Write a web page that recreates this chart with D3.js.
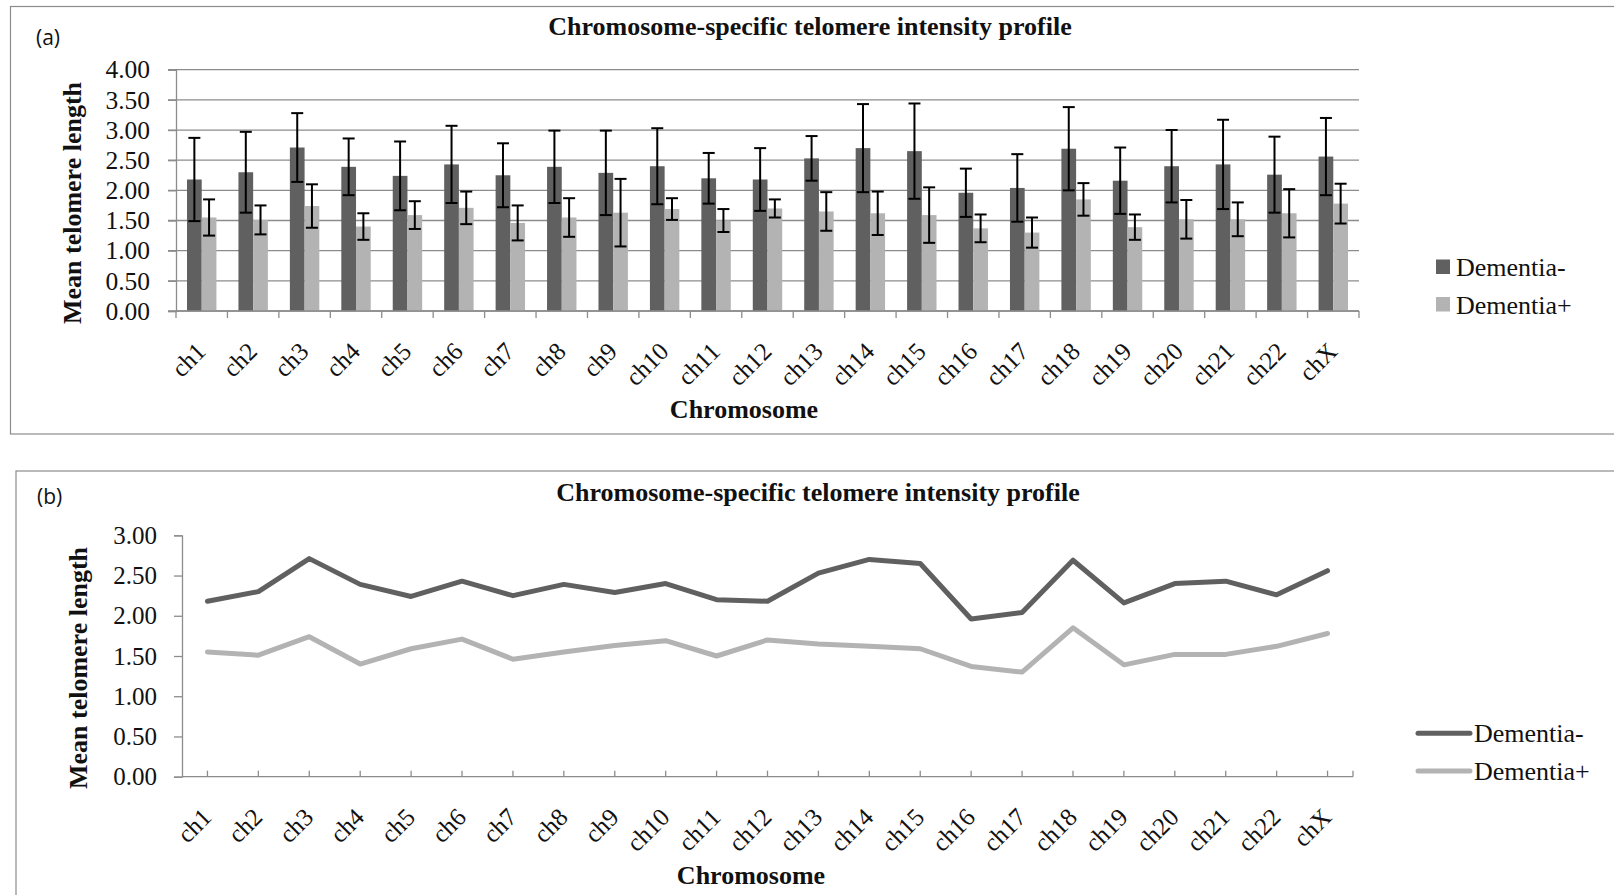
<!DOCTYPE html>
<html>
<head>
<meta charset="utf-8">
<script src="https://cdn.jsdelivr.net/npm/d3@7"></script>
<style>
  html, body { margin: 0; padding: 0; background: #fff; }
  svg { display: block; }
</style>
</head>
<body>
<svg id="fig" width="1614" height="895"></svg>
<script>
// Chromosome-specific mean telomere length, two groups.
const categories = ["ch1","ch2","ch3","ch4","ch5","ch6","ch7","ch8","ch9","ch10","ch11","ch12",
                    "ch13","ch14","ch15","ch16","ch17","ch18","ch19","ch20","ch21","ch22","chX"];
const seriesNames = ["Dementia-", "Dementia+"];
const dementiaNeg = [2.18,2.30,2.71,2.39,2.24,2.43,2.25,2.39,2.29,2.40,2.20,2.18,
                     2.53,2.70,2.65,1.96,2.04,2.69,2.16,2.40,2.43,2.26,2.56];
const dementiaPos = [1.55,1.51,1.74,1.40,1.59,1.71,1.46,1.55,1.63,1.69,1.50,1.70,
                     1.65,1.62,1.59,1.37,1.30,1.85,1.39,1.52,1.52,1.62,1.78];
const sdNeg = [0.69,0.67,0.57,0.47,0.57,0.64,0.53,0.60,0.70,0.63,0.42,0.52,
               0.37,0.73,0.79,0.40,0.56,0.69,0.55,0.60,0.74,0.63,0.64];
const sdPos = [0.30,0.24,0.36,0.22,0.23,0.27,0.29,0.32,0.56,0.18,0.19,0.15,
               0.32,0.36,0.46,0.23,0.25,0.27,0.21,0.32,0.28,0.40,0.33];
const yTicksBar = [0,0.5,1,1.5,2,2.5,3,3.5,4];
const yTicksLine = [0,0.5,1,1.5,2,2.5,3];
const chartTitle = "Chromosome-specific telomere intensity profile";
const yTitle = "Mean telomere length";
const xTitle = "Chromosome";

const colors = { "Dementia-": "#606060", "Dementia+": "#b3b3b3" };
const axisGray = "#8c8c8c";
const SERIF = '"Liberation Serif", "Times New Roman", Times, serif';
const SANS = '"Open Sans", "Liberation Sans", sans-serif';
const fmt = d3.format(".2f");

const svg = d3.select("#fig");

const seriesData = [
  { name: "Dementia-", values: dementiaNeg, sd: sdNeg },
  { name: "Dementia+", values: dementiaPos, sd: sdPos }
];

function serifText(sel, size, bold) {
  return sel.style("font-family", SERIF).style("font-size", size + "px")
    .style("font-weight", bold ? "bold" : "normal").attr("fill", "#111");
}

// ---------- panel frames ----------
svg.append("rect").attr("x", 10.5).attr("y", 6.5).attr("width", 1640).attr("height", 427.5)
  .attr("fill", "none").attr("stroke", axisGray).attr("stroke-width", 1.2);
svg.append("rect").attr("x", 16).attr("y", 471).attr("width", 1640).attr("height", 500)
  .attr("fill", "none").attr("stroke", axisGray).attr("stroke-width", 1.2);

svg.append("text").attr("x", 36).attr("y", 45).style("font-family", SANS)
  .style("font-size", "21px").attr("fill", "#111").text("(a)");
svg.append("text").attr("x", 37).attr("y", 504).style("font-family", SANS)
  .style("font-size", "21px").attr("fill", "#111").text("(b)");

// ================= (a) bar chart with error bars =================
{
  const L = 176, R = 1359, T = 69.7, B = 311;
  const x = d3.scaleBand().domain(categories).range([L, R]).padding(0);
  const bw = x.bandwidth();
  const xs = d3.scaleBand().domain(seriesNames).range([bw * 0.214, bw * 0.786]).padding(0);
  const y = d3.scaleLinear().domain([0, 4]).range([B, T]);
  const g = svg.append("g");

  // gridlines
  g.append("g").selectAll("line").data(yTicksBar).join("line")
    .attr("x1", L - 8).attr("x2", R)
    .attr("y1", d => y(d)).attr("y2", d => y(d))
    .attr("stroke", axisGray).attr("stroke-width", 1.3);

  // y axis
  const ya = g.append("g").attr("transform", `translate(${L},0)`)
    .call(d3.axisLeft(y).tickValues(yTicksBar).tickFormat(fmt).tickSize(8).tickPadding(18));
  ya.select(".domain").attr("stroke", axisGray).attr("stroke-width", 1.3);
  ya.selectAll(".tick line").attr("stroke", axisGray).attr("stroke-width", 1.3);
  serifText(ya.selectAll(".tick text"), 25.5, false);

  // bars
  seriesData.forEach(s => {
    g.append("g").selectAll("rect").data(categories).join("rect")
      .attr("x", c => x(c) + xs(s.name))
      .attr("width", xs.bandwidth())
      .attr("y", (c, i) => y(s.values[i]))
      .attr("height", (c, i) => y(0) - y(s.values[i]))
      .attr("fill", colors[s.name]);
  });

  // error bars
  seriesData.forEach(s => {
    const eg = g.append("g").attr("stroke", "#000").attr("stroke-width", 2);
    categories.forEach((c, i) => {
      const cx = x(c) + xs(s.name) + xs.bandwidth() / 2;
      const hi = y(s.values[i] + s.sd[i]), lo = y(s.values[i] - s.sd[i]);
      eg.append("line").attr("x1", cx).attr("x2", cx).attr("y1", hi).attr("y2", lo);
      eg.append("line").attr("x1", cx - 6).attr("x2", cx + 6).attr("y1", hi).attr("y2", hi);
      eg.append("line").attr("x1", cx - 6).attr("x2", cx + 6).attr("y1", lo).attr("y2", lo);
    });
  });

  // x axis
  g.append("line").attr("x1", L).attr("x2", R).attr("y1", B).attr("y2", B)
    .attr("stroke", axisGray).attr("stroke-width", 1.3);
  const bounds = categories.map(c => x(c)).concat([R]);
  g.append("g").selectAll("line").data(bounds).join("line")
    .attr("x1", d => d).attr("x2", d => d).attr("y1", B).attr("y2", B + 7)
    .attr("stroke", axisGray).attr("stroke-width", 1.3);

  serifText(g.append("g").selectAll("text").data(categories).join("text"), 25, false)
    .attr("text-anchor", "end")
    .attr("transform", c => `translate(${x(c) + bw / 2 + 5.5},${B + 42}) rotate(-45)`)
    .text(c => c);

  // titles
  serifText(svg.append("text"), 26, true).attr("x", 810).attr("y", 35)
    .attr("text-anchor", "middle").text(chartTitle);
  serifText(svg.append("text"), 26, true).attr("x", 744).attr("y", 418)
    .attr("text-anchor", "middle").text(xTitle);
  serifText(svg.append("text"), 26, true)
    .attr("transform", "translate(81,203) rotate(-90)")
    .attr("text-anchor", "middle").text(yTitle);

  // legend
  const lg = svg.append("g");
  seriesNames.forEach((n, i) => {
    const ly = 276 + i * 37.5;
    lg.append("rect").attr("x", 1436).attr("y", ly - 16.5).attr("width", 14).attr("height", 14.5)
      .attr("fill", colors[n]);
    serifText(lg.append("text"), 26, false).attr("x", 1456).attr("y", ly).text(n);
  });
}

// ================= (b) line chart =================
{
  const L = 182, R = 1353, T = 535.3, B = 776.7;
  const x = d3.scaleBand().domain(categories).range([L, R]).padding(0);
  const bw = x.bandwidth();
  const y = d3.scaleLinear().domain([0, 3]).range([B, T]);
  const g = svg.append("g");

  const ya = g.append("g").attr("transform", `translate(${L},0)`)
    .call(d3.axisLeft(y).tickValues(yTicksLine).tickFormat(fmt).tickSize(8).tickPadding(17));
  ya.select(".domain").attr("stroke", axisGray).attr("stroke-width", 1.3);
  ya.selectAll(".tick line").attr("stroke", axisGray).attr("stroke-width", 1.3);
  serifText(ya.selectAll(".tick text"), 25, false);

  g.append("line").attr("x1", L).attr("x2", R).attr("y1", B).attr("y2", B)
    .attr("stroke", axisGray).attr("stroke-width", 1.3);
  const tickXs = categories.map(c => x(c) + bw / 2).concat([R]);
  g.append("g").selectAll("line").data(tickXs).join("line")
    .attr("x1", d => d).attr("x2", d => d).attr("y1", B - 6).attr("y2", B)
    .attr("stroke", axisGray).attr("stroke-width", 1.3);

  const line = d3.line().x(d => x(d.c) + bw / 2).y(d => y(d.v));
  seriesData.forEach(s => {
    g.append("path")
      .datum(categories.map((c, i) => ({ c, v: s.values[i] })))
      .attr("d", line).attr("fill", "none")
      .attr("stroke", colors[s.name]).attr("stroke-width", 5)
      .attr("stroke-linejoin", "round").attr("stroke-linecap", "round");
  });

  serifText(g.append("g").selectAll("text").data(categories).join("text"), 25, false)
    .attr("text-anchor", "end")
    .attr("transform", c => `translate(${x(c) + bw / 2 + 5.5},${B + 42}) rotate(-45)`)
    .text(c => c);

  serifText(svg.append("text"), 26, true).attr("x", 818).attr("y", 501)
    .attr("text-anchor", "middle").text(chartTitle);
  serifText(svg.append("text"), 26, true).attr("x", 751).attr("y", 884)
    .attr("text-anchor", "middle").text(xTitle);
  serifText(svg.append("text"), 26, true)
    .attr("transform", "translate(87,668) rotate(-90)")
    .attr("text-anchor", "middle").text(yTitle);

  const lg = svg.append("g");
  seriesNames.forEach((n, i) => {
    const ly = 742.3 + i * 37.7;
    lg.append("line").attr("x1", 1418).attr("x2", 1470)
      .attr("y1", ly - 9).attr("y2", ly - 9)
      .attr("stroke", colors[n]).attr("stroke-width", 5).attr("stroke-linecap", "round");
    serifText(lg.append("text"), 26, false).attr("x", 1474).attr("y", ly).text(n);
  });
}
</script>
</body>
</html>
